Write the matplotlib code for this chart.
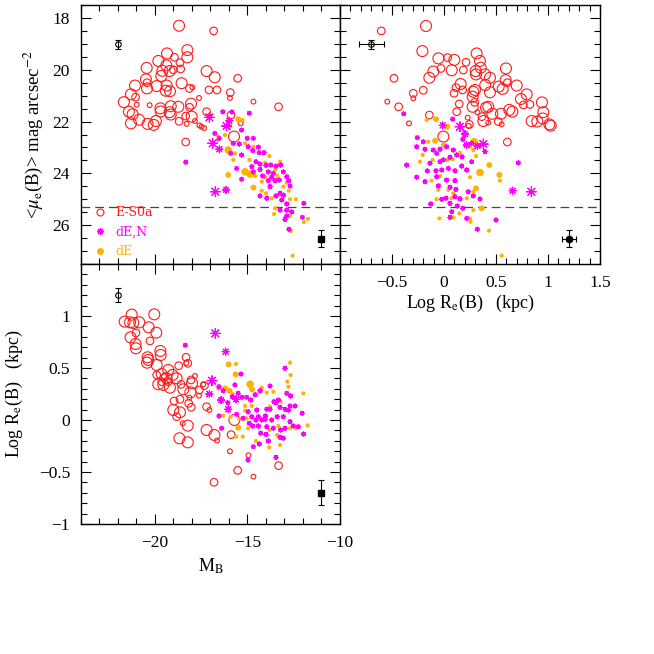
import matplotlib
matplotlib.use("Agg")
import matplotlib.pyplot as plt
from matplotlib.lines import Line2D
from matplotlib.ticker import MultipleLocator, FuncFormatter

# ---------------- data: panel 1 (M_B vs <mu_e>) ----------------
tl_es0a_M = [-18.70, -16.83, -19.35, -18.25, -18.25, -18.95, -18.65, -19.39, -19.82, -20.45,
             -19.60, -19.21, -19.01, -18.61, -19.66, -17.21, -16.77, -15.53, -20.49, -20.43,
             -19.91, -19.37, -18.56, -21.08, -20.43, -19.42, -19.19, -18.14, -17.98, -21.30,
             -21.05, -20.99, -21.68, -17.08, -16.65, -15.93, -15.95, -17.62, -14.68, -13.32,
             -20.29, -19.71, -19.69, -19.15, -18.74, -18.05, -18.13, -21.41, -21.21, -20.86,
             -21.30, -20.40, -20.07, -19.95, -19.21, -19.15, -18.02, -18.34, -18.70, -17.21,
             -17.06, -15.89, -17.84, -18.29, -17.60, -17.48, -17.35, -15.73, -18.34, -15.37]
tl_es0a_mu = [18.30, 18.50, 19.37, 19.24, 19.52, 19.52, 19.73, 19.83, 19.66, 19.93,
              20.04, 20.05, 20.00, 19.97, 20.24, 20.05, 20.29, 20.33, 20.37, 20.50,
              20.63, 20.61, 20.52, 20.61, 20.72, 20.81, 20.83, 20.72, 20.68, 20.95,
              21.06, 21.35, 21.25, 20.78, 20.78, 20.88, 21.09, 21.09, 21.23, 21.43,
              21.37, 21.49, 21.61, 21.41, 21.43, 21.31, 21.45, 21.62, 21.72, 21.93,
              22.07, 22.09, 22.13, 21.98, 21.64, 21.73, 21.81, 21.79, 21.99, 21.62,
              21.80, 21.75, 21.98, 22.09, 22.15, 22.20, 22.25, 22.58, 22.79, 22.07]
tl_es0a_sz = [3, 2, 3, 3, 3, 2, 2, 3, 3, 3,
              3, 3, 2, 2, 3, 3, 3, 2, 3, 2,
              3, 3, 3, 3, 3, 3, 3, 2, 1, 3,
              2, 1, 3, 2, 2, 2, 1, 1, 1, 2,
              1, 3, 3, 3, 3, 3, 2, 3, 3, 3,
              3, 3, 3, 3, 3, 3, 3, 2, 2, 2,
              1, 2, 1, 1, 1, 1, 1, 3, 2, 1]

tl_den_M = [-16.34, -14.90, -17.06, -16.13, -15.98, -15.32, -16.77, -16.52, -16.88, -16.52,
            -15.77, -15.44, -15.01, -14.68, -14.96, -14.41, -14.36, -14.11, -15.91, -15.32,
            -14.72, -14.54, -14.32, -14.00, -13.75, -13.46, -13.21, -15.59, -14.68, -14.32,
            -14.77, -14.18, -13.87, -13.60, -13.69, -13.28, -13.06, -12.88, -12.77, -12.70,
            -15.32, -13.87, -13.51, -13.78, -14.32, -13.96, -13.46, -13.24, -13.06, -13.15,
            -12.88, -11.96, -13.24, -12.88, -12.61, -12.88, -12.97, -12.03, -12.76, -16.74,
            -16.16, -18.34, -15.84]
tl_den_mu = [21.62, 21.68, 21.84, 22.17, 21.97, 22.33, 22.46, 22.65, 22.84, 23.07,
             22.84, 22.87, 22.65, 22.65, 22.97, 22.99, 23.20, 23.20, 23.23, 23.29,
             23.12, 23.55, 23.64, 23.69, 23.68, 23.72, 23.68, 23.81, 23.94, 23.85,
             23.74, 24.10, 23.94, 24.00, 24.15, 24.26, 23.94, 24.13, 24.28, 24.49,
             24.23, 24.28, 24.28, 24.51, 24.87, 24.96, 24.87, 24.77, 24.84, 25.03,
             25.18, 25.16, 25.42, 25.42, 25.49, 25.65, 25.78, 25.70, 26.16, 24.71,
             24.64, 23.57, 21.63]
tl_den_sz = [1, 1, 3, 3, 2, 1, 1, 1, 3, 2,
             1, 1, 1, 1, 1, 1, 1, 1, 1, 1,
             1, 1, 1, 1, 1, 1, 1, 1, 1, 1,
             1, 1, 1, 1, 1, 1, 1, 1, 1, 1,
             1, 1, 1, 1, 1, 1, 1, 1, 1, 1,
             1, 1, 1, 1, 1, 1, 1, 1, 1, 3,
             2, 1, 1]

tl_de_M = [-15.50, -15.26, -15.98, -16.58, -16.22, -16.04, -15.13, -14.68, -13.82, -15.68,
           -14.90, -14.05, -13.24, -15.13, -14.86, -14.59, -13.39, -12.88, -13.06, -16.04,
           -14.23, -14.68, -14.23, -14.00, -13.69, -13.42, -12.77, -12.70, -12.38, -13.51,
           -13.57, -12.70, -11.73, -11.95, -12.65, -12.56, -15.77, -16.58, -13.51, -14.05]
tl_de_mu = [21.91, 21.94, 22.17, 22.58, 22.52, 23.10, 22.84, 22.97, 23.33, 23.23,
            23.48, 23.59, 23.55, 23.94, 24.03, 24.10, 24.10, 24.36, 24.51, 24.06,
            24.32, 24.55, 24.67, 24.77, 24.96, 24.90, 24.67, 25.00, 25.00, 25.35,
            25.57, 25.65, 25.76, 25.88, 26.23, 27.18, 23.48, 22.71, 23.85, 24.15]
tl_de_sz = [2, 1, 2, 1, 1, 3, 1, 1, 1, 1,
            1, 1, 1, 3, 3, 1, 1, 1, 1, 2,
            1, 2, 1, 1, 1, 1, 1, 1, 1, 1,
            1, 1, 1, 1, 1, 1, 1, 1, 1, 1]

# ---------------- data: panel 2 (log Re vs <mu_e>) ----------------
tr_es0a_logre = [-0.603, -0.173, -0.208, -0.054, 0.035, 0.099, 0.212, 0.314, 0.346, 0.353,
                 0.304, 0.308, 0.394, 0.442, 0.596, -0.029, 0.074, 0.186, -0.103, -0.141,
                 -0.481, -0.295, -0.295, -0.199, 0.160, 0.115, 0.096, 0.179, 0.282, 0.298,
                 0.276, 0.295, 0.397, 0.442, 0.526, 0.564, 0.593, 0.609, 0.699, 0.740,
                 0.795, 0.763, 0.827, 0.942, -0.545, -0.436, -0.337, -0.141, 0.147, 0.122,
                 0.276, 0.321, 0.404, 0.426, 0.465, 0.548, 0.628, 0.657, 0.378, 0.365,
                 0.426, 0.522, 0.554, 0.843, 0.897, 0.955, 0.949, 1.013, 1.026, 0.228,
                 0.244, -0.006, 0.609, 0.237]
tr_es0a_mu = [18.50, 18.31, 19.28, 19.56, 19.53, 19.62, 19.71, 19.37, 19.66, 19.92,
              20.05, 20.18, 20.18, 20.31, 19.95, 19.95, 20.02, 20.01, 20.07, 20.31,
              20.33, 20.91, 21.10, 20.79, 20.55, 20.69, 20.91, 20.78, 20.85, 20.78,
              21.04, 21.26, 20.59, 20.87, 20.65, 20.74, 20.40, 20.50, 20.61, 21.13,
              20.95, 21.36, 21.34, 21.26, 21.23, 21.43, 22.07, 21.75, 21.32, 21.62,
              21.43, 21.64, 21.46, 21.43, 21.70, 21.70, 21.55, 21.62, 21.98, 21.81,
              22.04, 22.00, 22.11, 21.98, 22.00, 21.64, 21.88, 22.11, 22.16, 21.85,
              22.11, 22.58, 22.79, 22.17]
tr_es0a_sz = [2, 3, 3, 3, 2, 3, 2, 3, 3, 3,
              3, 3, 3, 3, 3, 2, 3, 2, 3, 3,
              2, 2, 1, 2, 3, 2, 2, 2, 3, 3,
              3, 2, 3, 3, 3, 3, 3, 2, 3, 3,
              3, 2, 2, 3, 1, 2, 1, 2, 2, 2,
              3, 1, 3, 3, 3, 3, 3, 3, 3, 2,
              1, 2, 1, 3, 3, 3, 3, 3, 3, 1,
              2, 3, 2, 1]

tr_den_logre = [-0.388, -0.013, 0.083, 0.154, 0.202, 0.180, 0.218, 0.321, 0.378, 0.266,
                -0.256, -0.199, -0.263, -0.183, -0.103, -0.071, -0.038, 0.025, 0.090, 0.122,
                0.173, 0.058, -0.006, -0.038, -0.359, -0.135, -0.160, -0.077, -0.022, 0.042,
                0.106, 0.170, 0.218, 0.266, -0.263, -0.183, -0.071, 0.025, 0.106, -0.055,
                0.058, 0.115, 0.234, 0.282, 0.346, 0.106, 0.154, 0.019, -0.022, -0.128,
                0.058, 0.128, 0.180, 0.074, 0.058, 0.218, 0.500, 0.321, 0.715, 0.660,
                0.840, 0.394]
tr_den_mu = [21.70, 22.15, 21.91, 22.20, 22.48, 22.69, 22.91, 22.94, 22.87, 22.84,
             22.62, 22.78, 22.97, 23.07, 23.10, 23.23, 23.07, 22.97, 23.10, 23.29,
             23.36, 23.38, 23.48, 23.55, 23.68, 23.61, 23.90, 23.90, 23.87, 23.81,
             23.90, 23.72, 23.87, 23.55, 24.15, 24.32, 24.13, 24.26, 24.28, 24.49,
             24.54, 24.62, 24.71, 24.87, 24.99, 24.90, 24.98, 24.96, 25.00, 25.18,
             25.16, 25.26, 25.35, 25.48, 25.70, 25.74, 25.80, 26.16, 23.59, 24.67,
             24.71, 23.16]
tr_den_sz = [1, 2, 1, 3, 2, 1, 2, 2, 3, 1,
             1, 1, 1, 1, 1, 1, 1, 1, 1, 1,
             1, 1, 1, 1, 1, 1, 1, 1, 1, 1,
             1, 1, 1, 1, 1, 1, 1, 1, 1, 1,
             1, 1, 1, 1, 1, 1, 1, 1, 1, 1,
             1, 1, 1, 1, 1, 1, 1, 1, 1, 2,
             3, 1]

tr_de_logre = [-0.077, -0.167, 0.032, -0.086, 0.000, -0.151, -0.205, -0.231, -0.109, 0.032,
               0.083, 0.154, 0.250, 0.289, 0.282, 0.308, 0.436, 0.346, 0.250, 0.538,
               -0.038, -0.119, -0.045, -0.055, 0.042, 0.090, 0.308, 0.282, 0.218, 0.074,
               -0.071, 0.362, 0.282, 0.090, 0.148, 0.250, -0.045, 0.256, 0.433, 0.555,
               0.532]
tr_de_mu = [21.91, 21.94, 22.20, 22.74, 22.91, 22.78, 23.29, 23.55, 23.48, 23.48,
            23.46, 23.20, 22.97, 22.78, 23.10, 23.33, 23.68, 23.97, 24.15, 24.28,
            24.10, 24.28, 24.45, 24.64, 24.64, 24.77, 24.58, 24.71, 24.96, 24.96,
            25.00, 25.35, 25.42, 25.70, 25.54, 25.74, 25.74, 25.87, 26.21, 27.18,
            24.06]
tr_de_sz = [2, 1, 2, 2, 2, 1, 1, 1, 1, 1,
            1, 1, 1, 3, 1, 1, 2, 3, 1, 1,
            1, 1, 1, 1, 1, 1, 2, 1, 1, 1,
            1, 2, 1, 1, 1, 1, 1, 1, 1, 1,
            2]

# ---------------- data: panel 3 (M_B vs log Re) ----------------
bl_es0a_M = [-21.26, -21.64, -21.35, -21.17, -20.85, -20.04, -20.34, -19.93, -21.32, -21.03,
             -21.05, -21.03, -20.27, -20.40, -20.36, -20.43, -19.91, -19.71, -19.69, -18.72,
             -18.32, -18.23, -19.28, -19.64, -19.82, -19.55, -19.37, -19.05, -18.83, -19.19,
             -19.28, -19.46, -19.64, -19.91, -18.59, -18.47, -18.00, -17.84, -18.05, -18.09,
             -17.60, -17.62, -17.39, -18.97, -18.65, -18.18, -18.14, -18.04, -19.01, -18.65,
             -18.83, -18.50, -18.23, -18.68, -18.23, -17.21, -17.06, -17.21, -16.79, -16.65,
             -15.89, -15.95, -15.53, -16.81, -14.95, -14.68, -13.32, -15.71, -17.33, -18.31]
bl_es0a_logre = [1.013, 0.946, 0.939, 0.933, 0.939, 1.016, 0.891, 0.840, 0.795, 0.837,
                 0.731, 0.689, 0.760, 0.603, 0.577, 0.551, 0.529, 0.664, 0.625, 0.522,
                 0.603, 0.545, 0.481, 0.442, 0.343, 0.337, 0.401, 0.433, 0.401, 0.311,
                 0.369, 0.417, 0.369, 0.433, 0.343, 0.295, 0.353, 0.423, 0.385, 0.266,
                 0.289, 0.234, 0.343, 0.183, 0.199, 0.160, 0.215, 0.122, 0.096, 0.074,
                 0.032, -0.032, -0.054, -0.176, -0.215, 0.128, 0.096, -0.096, -0.144, -0.198,
                 -0.141, -0.301, -0.484, -0.599, -0.340, -0.545, -0.439, 0.000, 0.330, 0.548]
bl_es0a_sz = [3, 3, 3, 3, 3, 3, 3, 3, 3, 2,
              3, 3, 2, 3, 3, 3, 3, 3, 3, 2,
              2, 2, 3, 3, 3, 3, 3, 3, 3, 3,
              2, 2, 2, 2, 2, 3, 3, 1, 2, 3,
              2, 1, 1, 2, 2, 2, 1, 2, 3, 3,
              2, 1, 3, 3, 3, 2, 1, 3, 3, 1,
              2, 1, 2, 2, 1, 1, 2, 3, 2, 1]

bl_den_M = [-16.74, -16.18, -16.92, -17.06, -16.54, -16.31, -16.43, -16.07, -16.04, -15.62,
            -15.82, -15.35, -15.68, -15.50, -15.31, -15.05, -14.83, -14.58, -14.32, -13.78,
            -13.57, -13.33, -12.97, -12.88, -12.67, -12.70, -12.43, -12.04, -11.97, -13.46,
            -13.24, -12.97, -12.79, -13.96, -13.78, -14.50, -14.41, -14.77, -14.96, -15.23,
            -15.59, -14.90, -14.54, -14.23, -14.05, -13.69, -13.39, -13.06, -12.70, -12.52,
            -12.25, -14.72, -14.41, -13.96, -13.60, -13.21, -12.97, -14.29, -14.00, -13.24,
            -13.06, -16.40, -16.54, -14.68, -14.36, -13.87, -13.46, -14.03, -18.36, -14.97]
bl_den_logre = [0.833, 0.657, 0.378, 0.250, 0.320, 0.282, 0.192, 0.167, 0.103, 0.199,
                0.224, 0.442, 0.337, 0.256, 0.218, 0.218, 0.192, 0.244, 0.282, 0.327,
                0.176, 0.192, 0.497, 0.256, 0.231, 0.135, 0.135, 0.064, -0.135, 0.167,
                0.122, 0.103, 0.096, 0.103, 0.103, 0.096, 0.032, 0.032, 0.080, 0.016,
                0.054, -0.032, 0.000, 0.000, 0.006, 0.000, 0.032, 0.032, -0.016, -0.058,
                -0.064, -0.058, -0.058, -0.064, -0.080, -0.096, -0.080, -0.128, -0.138, -0.167,
                -0.176, -0.080, 0.038, -0.256, -0.231, -0.202, -0.359, 0.038, 0.718, -0.385]
bl_den_sz = [3, 2, 3, 2, 1, 1, 2, 1, 2, 2,
             1, 1, 1, 1, 1, 1, 1, 1, 1, 1,
             1, 1, 1, 1, 1, 1, 1, 1, 1, 1,
             1, 1, 1, 1, 1, 1, 1, 1, 1, 1,
             1, 1, 1, 1, 1, 1, 1, 1, 1, 1,
             1, 1, 1, 1, 1, 1, 1, 1, 1, 1,
             1, 1, 1, 1, 1, 1, 1, 1, 1, 1]

bl_de_M = [-16.02, -15.62, -15.64, -14.86, -14.76, -12.70, -12.67, -12.85, -12.79, -11.98,
           -11.75, -14.23, -14.29, -13.96, -13.60, -16.22, -15.98, -15.80, -16.58, -15.13,
           -14.77, -15.13, -15.04, -15.44, -15.91, -16.31, -15.50, -15.62, -15.26, -13.82,
           -13.33, -12.70, -12.38, -13.24, -13.82, -14.54, -14.96, -13.39, -13.21, -13.78]
bl_de_logre = [0.535, 0.538, 0.439, 0.343, 0.295, 0.551, 0.433, 0.369, 0.320, 0.256,
               -0.051, 0.311, 0.272, 0.263, 0.272, 0.304, 0.282, 0.250, 0.304, 0.135,
               0.135, 0.090, 0.016, 0.013, 0.032, 0.042, -0.074, -0.160, -0.160, -0.096,
               -0.058, -0.080, -0.080, -0.240, -0.263, -0.202, -0.080, -0.144, 0.176, 0.128]
bl_de_sz = [2, 1, 2, 3, 2, 1, 1, 1, 1, 1,
            1, 1, 1, 1, 1, 2, 2, 1, 1, 1,
            1, 1, 1, 1, 1, 1, 2, 1, 1, 1,
            1, 1, 1, 1, 1, 1, 1, 1, 1, 1]

# typical error bars (x, y, xerr, yerr)
err_tl = [(-22.0, 19.02, 0.0, 0.17), (-11.0, 26.52, 0.0, 0.32)]
err_tr = [(-0.70, 19.02, 0.12, 0.17), (1.20, 26.52, 0.07, 0.32)]
err_bl = [(-22.0, 1.20, 0.0, 0.07), (-11.0, -0.70, 0.0, 0.12)]
mu_limit = 25.3

# ---------------- style ----------------
RED = '#ff1a1a'
MAG = '#ff00ff'
ORA = '#ffb300'
ES0A_S = {1: 12, 2: 30, 3: 62}
DEN_S = {1: 9, 2: 26, 3: 50}
DE_S = {1: 9, 2: 18, 3: 30}
AST = (8, 2, 0)

plt.rcParams['font.family'] = ['Liberation Serif', 'DejaVu Serif']
plt.rcParams['mathtext.fontset'] = 'stix'

fig = plt.figure(figsize=(6.54, 6.54), dpi=100)
ax1 = fig.add_axes([0.12385, 0.59633, 0.39602, 0.39602])
ax2 = fig.add_axes([0.51987, 0.59633, 0.39755, 0.39602])
ax3 = fig.add_axes([0.12385, 0.19878, 0.39602, 0.39755])


def draw(ax, es, den, de):
    ax.scatter(es[0], es[1], s=[ES0A_S[k] for k in es[2]], facecolors='none',
               edgecolors=RED, linewidths=0.8, zorder=3)
    ax.scatter(de[0], de[1], s=[DE_S[k] for k in de[2]], color=ORA,
               edgecolors='none', zorder=4)
    ax.scatter(den[0], den[1], s=[DEN_S[k] for k in den[2]], marker=AST,
               color=MAG, linewidths=0.8, zorder=4)


def errs(ax, items, filled_marker):
    (x0, y0, xe0, ye0), (x1, y1, xe1, ye1) = items
    ax.errorbar([x0], [y0], xerr=[xe0] if xe0 else None, yerr=[ye0], fmt='o',
                mfc='none', mec='black', ms=4, ecolor='black', elinewidth=0.8,
                capsize=2.5, capthick=0.8, mew=0.8, zorder=5)
    ax.errorbar([x1], [y1], xerr=[xe1] if xe1 else None, yerr=[ye1], fmt=filled_marker,
                mfc='black', mec='black', ms=4.5, ecolor='black', elinewidth=0.8,
                capsize=2.5, capthick=0.8, zorder=5)


draw(ax1, (tl_es0a_M, tl_es0a_mu, tl_es0a_sz), (tl_den_M, tl_den_mu, tl_den_sz),
     (tl_de_M, tl_de_mu, tl_de_sz))
draw(ax2, (tr_es0a_logre, tr_es0a_mu, tr_es0a_sz), (tr_den_logre, tr_den_mu, tr_den_sz),
     (tr_de_logre, tr_de_mu, tr_de_sz))
draw(ax3, (bl_es0a_M, bl_es0a_logre, bl_es0a_sz), (bl_den_M, bl_den_logre, bl_den_sz),
     (bl_de_M, bl_de_logre, bl_de_sz))
errs(ax1, err_tl, 's')
errs(ax2, err_tr, 'o')
errs(ax3, err_bl, 's')

for ax in (ax1, ax2):
    ax.axhline(mu_limit, color='#444444', lw=0.9, dashes=(7, 4), zorder=2)
    ax.set_ylim(27.5, 17.5)
    ax.yaxis.set_major_locator(MultipleLocator(2))
    ax.yaxis.set_minor_locator(MultipleLocator(0.5))

for ax in (ax1, ax3):
    ax.set_xlim(-24, -10)
    ax.xaxis.set_major_locator(MultipleLocator(5))
    ax.xaxis.set_minor_locator(MultipleLocator(1))

ax2.set_xlim(-1, 1.5)
ax2.xaxis.set_major_locator(MultipleLocator(0.5))
ax2.xaxis.set_minor_locator(MultipleLocator(0.1))
ax3.set_ylim(-1, 1.5)
ax3.yaxis.set_major_locator(MultipleLocator(0.5))
ax3.yaxis.set_minor_locator(MultipleLocator(0.1))


def fmt_hide(hide):
    def f(v, pos):
        if abs(v - hide) < 1e-6:
            return ''
        s = '%g' % v
        return s.replace('-', '\u2212')
    return FuncFormatter(f)


ax2.xaxis.set_major_formatter(fmt_hide(-1))
ax3.yaxis.set_major_formatter(fmt_hide(1.5))
ax3.xaxis.set_major_formatter(fmt_hide(999))
ax1.yaxis.set_major_formatter(fmt_hide(999))

for ax in (ax1, ax2, ax3):
    ax.tick_params(which='both', direction='in', top=True, right=True, width=0.8,
                   labelsize=12.5, pad=8)
    ax.tick_params(which='major', length=7)
    ax.tick_params(which='minor', length=4)
    for sp in ax.spines.values():
        sp.set_linewidth(1.0)

ax1.tick_params(labelbottom=False)
ax2.tick_params(labelleft=False)

ax1.set_ylabel(r'<$\mu_{\rm e}$(B)> mag arcsec$^{-2}$', fontsize=13.5)
ax1.yaxis.set_label_coords(-0.14, 0.5)
ax3.set_ylabel(r'Log R$_{\rm e}$(B)   (kpc)', fontsize=13)
ax3.yaxis.set_label_coords(-0.215, 0.5)
ax2.set_xlabel(r'Log R$_{\rm e}$(B)   (kpc)', fontsize=13)
ax2.xaxis.set_label_coords(0.5, -0.11)
ax3.set_xlabel(r'M$_{\rm B}$', fontsize=13)
ax3.xaxis.set_label_coords(0.5, -0.125)

handles = [
    Line2D([], [], ls='none', marker='o', mfc='none', mec=RED, ms=5, mew=0.8, label='E-S0a'),
    Line2D([], [], ls='none', marker=AST, color=MAG, ms=5, mew=0.9, label='dE,N'),
    Line2D([], [], ls='none', marker='o', color=ORA, mec='none', ms=5, label='dE'),
]
leg = ax1.legend(handles=handles, loc='lower left', bbox_to_anchor=(0.015, -0.02),
                 frameon=False, handlelength=0.6, handletextpad=0.9, labelspacing=0.5,
                 prop={'family': 'DejaVu Serif', 'size': 9})
for t, c in zip(leg.get_texts(), (RED, MAG, ORA)):
    t.set_color(c)

fig.savefig('out.png', dpi=100)
